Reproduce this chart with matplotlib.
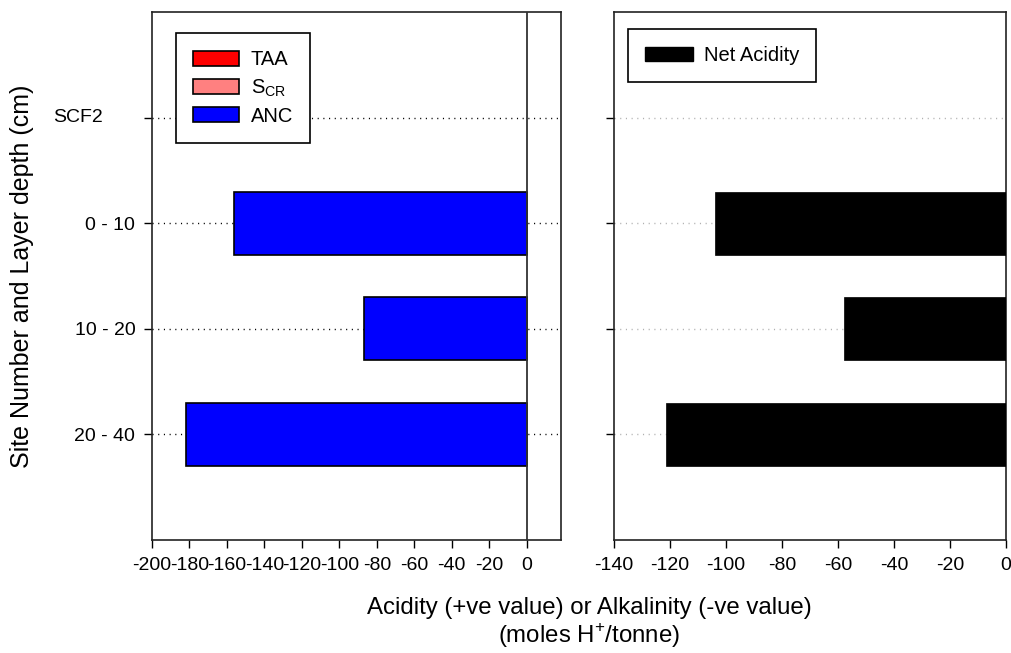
import matplotlib
matplotlib.use("Agg")
import matplotlib.pyplot as plt
import matplotlib.transforms as mtransforms
from matplotlib.patches import Patch

plt.rcParams["font.family"] = ["Liberation Sans", "DejaVu Sans"]
plt.rcParams["mathtext.fontset"] = "custom"
plt.rcParams["mathtext.rm"] = "Liberation Sans"

# Site header followed by its sampled layers
site = "SCF2"
layers = ["0 - 10", "10 - 20", "20 - 40"]
row_labels = [site] + layers

# Acid-base components (moles H+/tonne)
taa = [0, 0, 0]
scr = [0, 0, 0]
anc = [-156, -87, -182]
net_acidity = [-104, -58, -121.3]

left_xticks = [-200, -180, -160, -140, -120, -100, -80, -60, -40, -20, 0]
right_xticks = [-140, -120, -100, -80, -60, -40, -20, 0]

W, H = 1011, 653
fig = plt.figure(figsize=(W / 100, H / 100), dpi=100)

def px_axes(x0, x1, y0, y1):
    return fig.add_axes([x0 / W, 1 - y1 / H, (x1 - x0) / W, (y1 - y0) / H])

ax1 = px_axes(152, 561, 12, 540)
ax2 = px_axes(614, 1006, 12, 540)

rows = list(range(len(row_labels)))
layer_rows = rows[1:]
bar_h = 0.6

# Left panel: TAA and S_CR stacked to the right, ANC to the left
ax1.barh(layer_rows, taa, height=bar_h, color="#ff0000", edgecolor="black", lw=1.2, zorder=3)
ax1.barh(layer_rows, scr, left=taa, height=bar_h, color="#ff8080", edgecolor="black", lw=1.2, zorder=3)
ax1.barh(layer_rows, anc, height=bar_h, color="#0000ff", edgecolor="black", lw=1.2, zorder=3)
ax1.axvline(0, color="#333333", lw=1.3, zorder=4)

# Right panel: net acidity
ax2.barh(layer_rows, net_acidity, height=bar_h, color="black", edgecolor="black", lw=0.5, zorder=3)

for ax, xt, xl, gcol in ((ax1, left_xticks, (-200, 18.3), "black"),
                         (ax2, right_xticks, (-140, 0), "#b0b0b0")):
    ax.set_xlim(*xl)
    ax.set_ylim(4, -1)
    ax.set_xticks(xt)
    ax.set_yticks(rows)
    ax.grid(axis="y", color=gcol, lw=1.0, linestyle=(0, (0.8, 3.3)), zorder=1)
    ax.set_axisbelow(True)
    ax.tick_params(direction="out", length=6, width=1.0, labelsize=14, color="black")
    ax.tick_params(axis="x", pad=6)
    ax.tick_params(axis="y", pad=6)
    for s in ax.spines.values():
        s.set_linewidth(1.2)
        s.set_color("#222222")

# Layer labels sit at the ticks; the site name is set further out to the left
ax1.set_yticklabels([""] + layers)
ax2.set_yticklabels([])
site_tr = mtransforms.blended_transform_factory(fig.transFigure, ax1.transData)
ax1.text(53 / W, rows[0], site, transform=site_tr, ha="left", va="center",
         fontsize=14, clip_on=False)
ax1.set_xticklabels([str(v) for v in left_xticks])
ax2.set_xticklabels([str(v) for v in right_xticks])

fig.text(22 / W, 1 - 276 / H, "Site Number and Layer depth (cm)", rotation=90,
         ha="center", va="center", fontsize=18)

# Legends
h1 = [Patch(facecolor="#ff0000", edgecolor="black", lw=1.2, label="TAA"),
      Patch(facecolor="#ff8080", edgecolor="black", lw=1.2, label=r"S$_\mathregular{CR}$"),
      Patch(facecolor="#0000ff", edgecolor="black", lw=1.2, label="ANC")]
lg1 = ax1.legend(handles=h1, loc="upper left", bbox_to_anchor=(0.0587, 0.960),
                 borderaxespad=0, fontsize=14.5, handlelength=2.3, handleheight=0.75,
                 handletextpad=0.55, labelspacing=0.4, borderpad=0.85,
                 fancybox=False, framealpha=1, edgecolor="black")
lg1.get_frame().set_linewidth(1.2)
lg1.set_zorder(5)

h2 = [Patch(facecolor="black", edgecolor="black", label="Net Acidity")]
lg2 = ax2.legend(handles=h2, loc="upper left", bbox_to_anchor=(0.0357, 0.968),
                 borderaxespad=0, fontsize=14.5, handlelength=2.4, handleheight=0.75,
                 handletextpad=0.5, borderpad=0.85,
                 fancybox=False, framealpha=1, edgecolor="black")
lg2.get_frame().set_linewidth(1.2)
lg2.set_zorder(5)

fig.text(589 / W, 1 - 608 / H, "Acidity (+ve value) or Alkalinity (-ve value)",
         ha="center", va="center", fontsize=17.3)
fig.text(589 / W, 1 - 636 / H, r"(moles H$^\mathregular{+}$/tonne)",
         ha="center", va="center", fontsize=17.3)

fig.savefig("out.png", dpi=100)
